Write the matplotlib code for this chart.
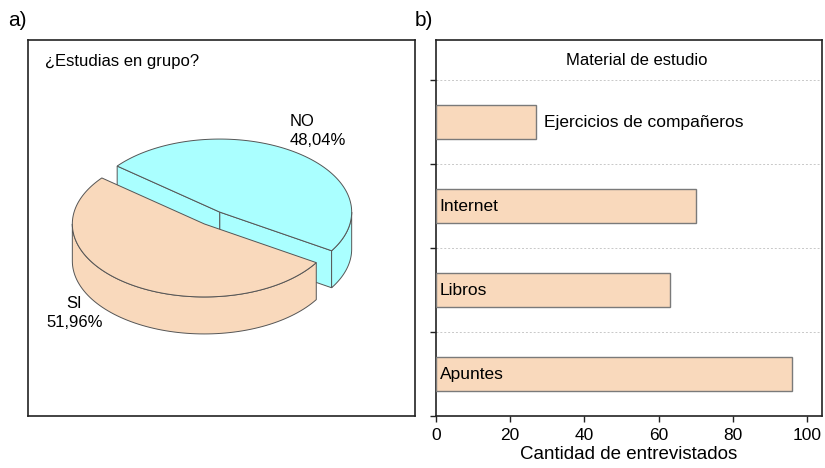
import numpy as np
import matplotlib
matplotlib.use("Agg")
import matplotlib.pyplot as plt
from matplotlib.patches import Polygon

plt.rcParams["font.family"] = ["Liberation Sans", "DejaVu Sans"]

# ── data ────────────────────────────────────────────────────────────────
pie_labels = ["NO", "SI"]
pie_pcts = [48.04, 51.96]
pie_colors = ["#aaffff", "#f9d9bc"]

bar_labels = ["Apuntes", "Libros", "Internet", "Ejercicios de compañeros"]
bar_values = [96, 63, 70, 27]
bar_color = "#f9d9bc"

W, H = 825, 468
fig = plt.figure(figsize=(W / 100, H / 100), dpi=100)
fig.patch.set_facecolor("white")


def frac(x0, y0, x1, y1):
    return [x0 / W, 1 - y1 / H, (x1 - x0) / W, (y1 - y0) / H]


# ── a) 3D exploded pie, drawn in pixel coordinates ──────────────────────
ax1 = fig.add_axes(frac(28, 40, 415, 416))
ax1.set_xlim(28, 415)
ax1.set_ylim(416, 40)
ax1.set_xticks([])
ax1.set_yticks([])
for s in ax1.spines.values():
    s.set_linewidth(1.2)
    s.set_color("#222222")

cx0, cy0 = 212, 218     # centre of the pie top
a, b, depth = 132, 73, 37
explode = 0.1
start = -32.0
edge = dict(edgecolor="#555555", linewidth=0.7)


def pt(cx, cy, t):
    r = np.deg2rad(t)
    return cx + a * np.cos(r), cy - b * np.sin(r)


def draw_slice(t1, t2, color):
    tm = np.deg2rad((t1 + t2) / 2)
    cx = cx0 + explode * a * np.cos(tm)
    cy = cy0 - explode * b * np.sin(tm)
    # visible cut faces (facing the viewer)
    for t, nrm in ((t1, t1 - 90), (t2, t2 + 90)):
        if np.sin(np.deg2rad(nrm)) < 0:
            px, py = pt(cx, cy, t)
            ax1.add_patch(Polygon([(cx, cy), (px, py), (px, py + depth),
                                   (cx, cy + depth)], facecolor=color, **edge))
    # front part of the outer wall
    segs = []
    for f0, f1 in ((180, 360), (-180, 0), (540, 720)):
        s0, s1 = max(t1, f0), min(t2, f1)
        if s1 > s0:
            segs.append((s0, s1))
    for s0, s1 in segs:
        ts = np.linspace(s0, s1, 80)
        top = [pt(cx, cy, t) for t in ts]
        bot = [(x, y + depth) for x, y in top[::-1]]
        ax1.add_patch(Polygon(top + bot, facecolor=color, **edge))
    # top face
    ts = np.linspace(t1, t2, 160)
    ax1.add_patch(Polygon([(cx, cy)] + [pt(cx, cy, t) for t in ts],
                          facecolor=color, **edge))


angles = np.cumsum([0] + [p * 3.6 for p in pie_pcts]) + start
for i in range(len(pie_pcts)):
    draw_slice(angles[i], angles[i + 1], pie_colors[i])


def pct_text(lab, p):
    return f"{lab}\n{p:.2f}%".replace(".", ",")


ax1.text(290, 131, pct_text(pie_labels[0], pie_pcts[0]), ha="left",
         va="center", fontsize=12, linespacing=1.3)
ax1.text(74.5, 313, pct_text(pie_labels[1], pie_pcts[1]), ha="center",
         va="center", fontsize=12, linespacing=1.3, multialignment="center")
ax1.text(45, 62, "¿Estudias en grupo?", ha="left", va="center", fontsize=12)

# ── b) horizontal bars ──────────────────────────────────────────────────
ax2 = fig.add_axes(frac(436, 40, 822, 416))
ypos = np.arange(len(bar_values)) + 0.5
ax2.barh(ypos, bar_values, height=0.4, color=bar_color,
         edgecolor="#7a7a7a", linewidth=1.0, zorder=3)
ax2.set_xlim(0, 104)
ax2.set_ylim(0, 4.48)
ax2.set_xticks(range(0, 101, 20))
ax2.set_yticks(range(0, 5))
ax2.set_yticklabels([])
for y in range(1, 5):
    ax2.axhline(y, color="#c8c8c8", lw=0.7, ls=(0, (2, 2)), zorder=1)
ax2.tick_params(axis="both", direction="out", length=4, width=1,
                labelsize=12.5, color="#222222")
ax2.tick_params(axis="x", pad=5)
for s in ax2.spines.values():
    s.set_linewidth(1.2)
    s.set_color("#222222")

for y, lab, v in zip(ypos, bar_labels, bar_values):
    if v < 40:
        ax2.text(v + 2, y, lab, ha="left", va="center", fontsize=12.5)
    else:
        ax2.text(1.0, y, lab, ha="left", va="center", fontsize=12.5, zorder=4)
ax2.text(0.52, 4.24, "Material de estudio", ha="center", va="center",
         fontsize=12, transform=ax2.get_yaxis_transform())
ax2.set_xlabel("Cantidad de entrevistados", fontsize=13.5, labelpad=2)

fig.text(8 / W, 1 - 20 / H, "a)", fontsize=15, ha="left", va="center")
fig.text(415 / W, 1 - 20 / H, "b)", fontsize=15, ha="left", va="center")

fig.savefig("out.png", dpi=100)
